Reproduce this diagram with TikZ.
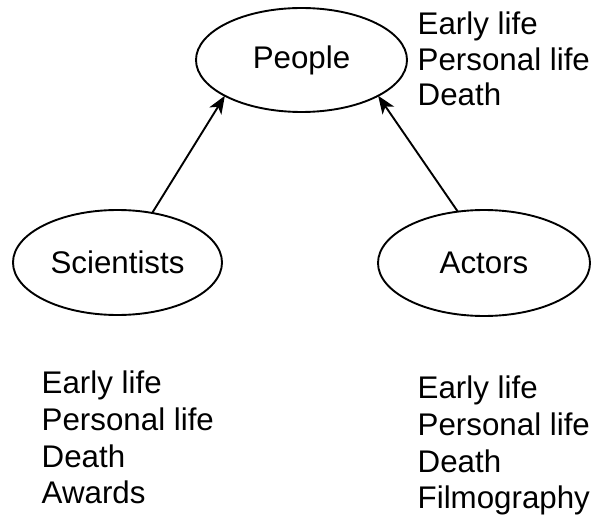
\documentclass[tikz,border=0pt]{standalone}
\usepackage{fontspec}
\setmainfont{Liberation Sans}
\usetikzlibrary{shapes.geometric,arrows.meta}

\tikzset{
  entity/.style={draw, ellipse, line width=1.9pt, inner sep=0pt, outer sep=0pt,
    font=\fontsize{31.3}{36}\selectfont},
  item/.style={anchor=base west, inner sep=0pt, font=\fontsize{31.3}{36}\selectfont},
  link/.style={line width=1.9pt, -{Stealth[length=18pt, width=14pt, inset=5pt]}}
}

\begin{document}
\begin{tikzpicture}[x=1pt, y=-1pt]
  \useasboundingbox (0,0) rectangle (594,516);

  % class nodes
  \node[entity, minimum width=211pt, minimum height=104pt] (people) at (301.5,60) {People};
  \node[entity, minimum width=209pt, minimum height=105pt] (sci) at (117.5,262.5) {Scientists};
  \node[entity, minimum width=212pt, minimum height=106pt] (act) at (484,263) {Actors};

  % inheritance arrows
  \draw[link] (sci.55) -- (people.205);
  \draw[link] (act.117) -- (people.335);

  % attributes of People
  \node[item] (p1) at (417.5,35) {Early life};
  \node[item] (p2) at (417.5,70.5) {Personal life};
  \node[item] (p3) at (417.5,106) {Death};

  % attributes of Scientists
  \node[item] (s1) at (41.5,393) {Early life};
  \node[item] (s2) at (41.5,430) {Personal life};
  \node[item] (s3) at (41.5,467) {Death};
  \node[item] (s4) at (41.5,503) {Awards};

  % attributes of Actors
  \node[item] (a1) at (417.5,398) {Early life};
  \node[item] (a2) at (417.5,435) {Personal life};
  \node[item] (a3) at (417.5,472) {Death};
  \node[item] (a4) at (417.5,508) {Filmography};
\end{tikzpicture}
\end{document}
